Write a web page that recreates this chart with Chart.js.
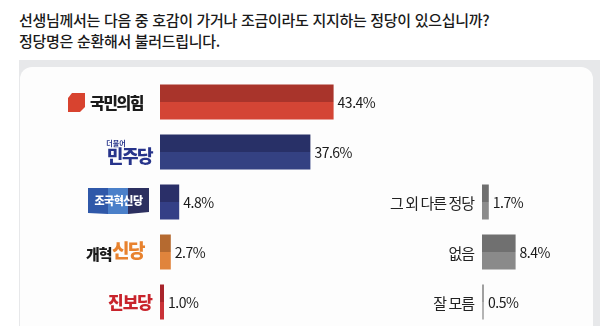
<!DOCTYPE html>
<html lang="ko">
<head>
<meta charset="utf-8">
<script src="https://cdn.jsdelivr.net/npm/chart.js@4.4.1/dist/chart.umd.min.js"></script>
<style>
  body { margin: 0; width: 600px; height: 326px; overflow: hidden; background: #fff; position: relative; }
  #title {
    position: absolute; left: 19px; top: 9px;
    font: 500 15px/21px 'Noto Sans CJK KR', sans-serif; letter-spacing: -0.3px; color: #1a1a1a;
  }
  #band { position: absolute; left: 19px; top: 60px; width: 581px; height: 280px; background: #e7e8ea; }
  #panel { position: absolute; left: 20px; top: 67px; width: 573px; height: 270px; background: #fdfdfd; border-radius: 12px 12px 0 0; }
  canvas { position: absolute; left: 0; top: 0; }
</style>
</head>
<body>
<div id="title">선생님께서는 다음 중 호감이 가거나 조금이라도 지지하는 정당이 있으십니까?<br>정당명은 순환해서 불러드립니다.</div>
<div id="band"></div>
<div id="panel"></div>
<canvas id="leftChart" width="600" height="332"></canvas>
<canvas id="rightChart" width="600" height="332"></canvas>
<script>
// Data
const partyLabels = ['국민의힘', '민주당', '조국혁신당', '개혁신당', '진보당'];
const partyValues = [43.4, 37.6, 4.8, 2.7, 1.0];
const otherLabels = ['그 외 다른 정당', '없음', '잘 모름'];
const otherValues = [1.7, 8.4, 0.5];

// Colours (top half / bottom half of each bar)
const partyTop = ['#a9342b', '#283067', '#2a2f68', '#b56a30', '#a8242b'];
const partyBottom = ['#d44535', '#344182', '#343f86', '#e0843c', '#c93237'];
const otherTop = ['#6f6f6f', '#707070', '#a0a0a0'];
const otherBottom = ['#8b8b8b', '#8a8a8a', '#b4b4b4'];

const FONT = "'Noto Sans CJK KR', 'Noto Sans', sans-serif";

/**
 * Draw the party logo next to a row
 */
function drawPartyLogo(ctx, i, y) {
  ctx.save();
  ctx.textBaseline = 'middle';
  ctx.textAlign = 'right';
  if (i === 0) {
    // red tag + name
    ctx.fillStyle = '#d8432f';
    ctx.beginPath();
    ctx.moveTo(72, y - 9); ctx.lineTo(85, y - 9); ctx.lineTo(85, y + 5);
    ctx.lineTo(80, y + 10); ctx.lineTo(68, y + 10); ctx.lineTo(68, y - 4);
    ctx.closePath();
    ctx.fill();
    ctx.fillStyle = '#1b1b1b';
    ctx.font = `900 16px ${FONT}`;
    ctx.letterSpacing = '-1.5px';
    ctx.fillText(partyLabels[0], 143, y + 1);
  } else if (i === 1) {
    ctx.fillStyle = '#27348b';
    ctx.textAlign = 'center';
    ctx.font = `700 7px ${FONT}`;
    ctx.fillText('더불어', 116, y - 9);
    ctx.textAlign = 'right';
    ctx.font = `900 18px ${FONT}`;
    ctx.letterSpacing = '-1.5px';
    ctx.fillText(partyLabels[1], 152, y + 4);
  } else if (i === 2) {
    // three-tone banner
    const segs = [[88, '#2f58a9'], [108, '#4b80c9'], [128, '#2c3060']];
    segs.forEach(([x0, c], k) => {
      const x1 = k < 2 ? segs[k + 1][0] : 149;
      ctx.fillStyle = c;
      ctx.beginPath();
      ctx.moveTo(x0, y - 14);
      ctx.lineTo(x1, y - 14);
      ctx.lineTo(x1, y + (k === 2 ? 10 : 12));
      ctx.lineTo(x0, y + (k === 0 ? 11 : 12));
      ctx.closePath();
      ctx.fill();
    });
    ctx.fillStyle = '#fff';
    ctx.textAlign = 'center';
    ctx.font = `900 11px ${FONT}`;
    ctx.letterSpacing = '-0.5px';
    ctx.fillText(partyLabels[2], 118.5, y - 1);
  } else if (i === 3) {
    ctx.textAlign = 'left';
    ctx.fillStyle = '#1b1b1b';
    ctx.font = `900 15px ${FONT}`;
    ctx.letterSpacing = '-1px';
    ctx.fillText('개혁', 86, y + 2);
    ctx.fillStyle = '#e8822e';
    ctx.font = `900 19px ${FONT}`;
    ctx.letterSpacing = '-1.5px';
    ctx.fillText('신당', 112, y - 1);
  } else {
    ctx.fillStyle = '#c8242c';
    ctx.font = `900 17px ${FONT}`;
    ctx.letterSpacing = '-1px';
    ctx.fillText(partyLabels[4], 152, y + 1);
  }
  ctx.restore();
}

/**
 * Plugin: value labels at the end of the bars, and category labels on the left
 */
const labelPlugin = {
  id: 'labels',
  afterDatasetsDraw(chart, args, opts) {
    const ctx = chart.ctx;
    const xs = chart.scales.x, ys = chart.scales.y;
    const values = chart.data.datasets[0].data;
    chart.data.labels.forEach((label, i) => {
      const y = ys.getPixelForValue(i);
      // value
      ctx.save();
      ctx.font = `14px ${FONT}`;
      ctx.letterSpacing = '-0.5px';
      ctx.fillStyle = '#1a1a1a';
      ctx.textBaseline = 'middle';
      ctx.textAlign = 'left';
      ctx.fillText(values[i].toFixed(1) + '%', xs.getPixelForValue(values[i]) + 4, y + 1);
      ctx.restore();
      // category
      if (opts.logos) {
        drawPartyLogo(ctx, i, y);
      } else {
        ctx.save();
        ctx.font = `15px ${FONT}`;
        ctx.letterSpacing = '-1px';
        ctx.fillStyle = '#222';
        ctx.textBaseline = 'middle';
        ctx.textAlign = 'right';
        ctx.fillText(label, opts.labelX, y + 1);
        ctx.restore();
      }
    });
  }
};

/**
 * Build the options for one bar group
 */
function barConfig(labels, values, top, bottom, padding, xMax, labelOpts) {
  return {
    type: 'bar',
    data: {
      labels: labels,
      datasets: [
        { data: values, backgroundColor: top, categoryPercentage: 0.7, barPercentage: 1.0 },
        { data: values, backgroundColor: bottom, categoryPercentage: 0.7, barPercentage: 1.0 }
      ]
    },
    options: {
      indexAxis: 'y',
      responsive: false,
      animation: false,
      layout: { padding: padding },
      plugins: {
        legend: { display: false },
        tooltip: { enabled: false },
        labels: labelOpts
      },
      scales: {
        x: { display: false, min: 0, max: xMax },
        y: { display: false }
      }
    },
    plugins: [labelPlugin]
  };
}

// 4 px per percentage point on both groups
new Chart(document.getElementById('leftChart'),
  barConfig(partyLabels, partyValues, partyTop, partyBottom,
    { left: 160, right: 200, top: 77, bottom: 5 }, 60, { logos: true }));

new Chart(document.getElementById('rightChart'),
  barConfig(otherLabels, otherValues, otherTop, otherBottom,
    { left: 482, right: 18, top: 177, bottom: 5 }, 25, { logos: false, labelX: 474 }));
</script>
</body>
</html>
